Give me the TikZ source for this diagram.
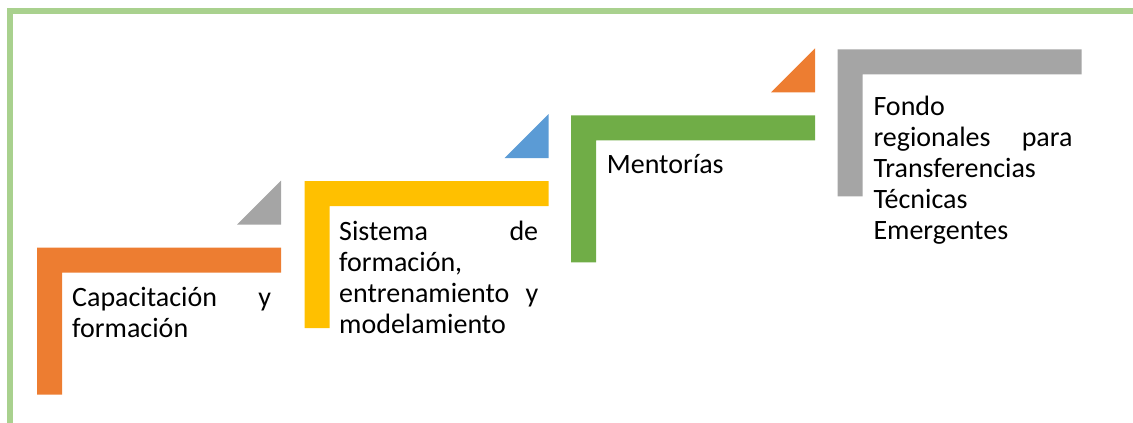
\documentclass[tikz,border=0pt]{standalone}
\usepackage{fontspec}
\setmainfont{Carlito}
\usepackage{tikz}
\usetikzlibrary{positioning, calc}

\definecolor{framegreen}{HTML}{A9D18E}
\definecolor{orangeA}{HTML}{ED7D31}
\definecolor{yellowA}{HTML}{FFC000}
\definecolor{greenA}{HTML}{70AD47}
\definecolor{grayA}{HTML}{A5A5A5}
\definecolor{blueA}{HTML}{5B9BD5}

\begin{document}
\begin{tikzpicture}[
    x=1pt, y=-1pt,
    frame/.style={fill=framegreen},
    bracket/.style={fill=#1},
    corner/.style={fill=#1},
    steptext/.style={anchor=base west, inner sep=0pt, text width=199pt, align=left, font=\fontsize{28}{31}\selectfont}
]
\useasboundingbox (0,0) rectangle (1133,423);

% outer frame
\fill[frame] (7,8) rectangle (1133,14);
\fill[frame] (7,8) rectangle (13,423);

\coordinate (s1) at (37,247.7);
\coordinate (s2) at (304.7,181);
\coordinate (s3) at (571,115.3);
\coordinate (s4) at (837.7,49.3);

% the four steps
\foreach \n/\col in {1/orangeA, 2/yellowA, 3/greenA, 4/grayA}
  \fill[bracket=\col] (s\n) -- ++(244,0) -- ++(0,25) -- ++(-219,0) -- ++(0,122) -- ++(-25,0) -- cycle;

% small corner triangles
\foreach \n/\col in {1/grayA, 2/blueA, 3/orangeA}
  \fill[corner=\col] ($(s\n)+(244,-67)$) -- ++(0,44) -- ++(-44,0) -- cycle;

\node[steptext] (capacit) at ($(s1)+(35,59)$) {Capacitación\hfill y\\ formación};
\node[steptext] (sistema) at ($(s2)+(34.3,59)$) {Sistema\hfill de\\ formación,\\ entrenamiento\hfill y\\ modelamiento};
\node[steptext] (mentor) at ($(s3)+(35.7,58)$) {Mentorías};
\node[steptext] (fondo) at ($(s4)+(35.6,66)$) {Fondo\\ regionales\hfill para\\ Transferencias\\ Técnicas\\ Emergentes};
\end{tikzpicture}
\end{document}
